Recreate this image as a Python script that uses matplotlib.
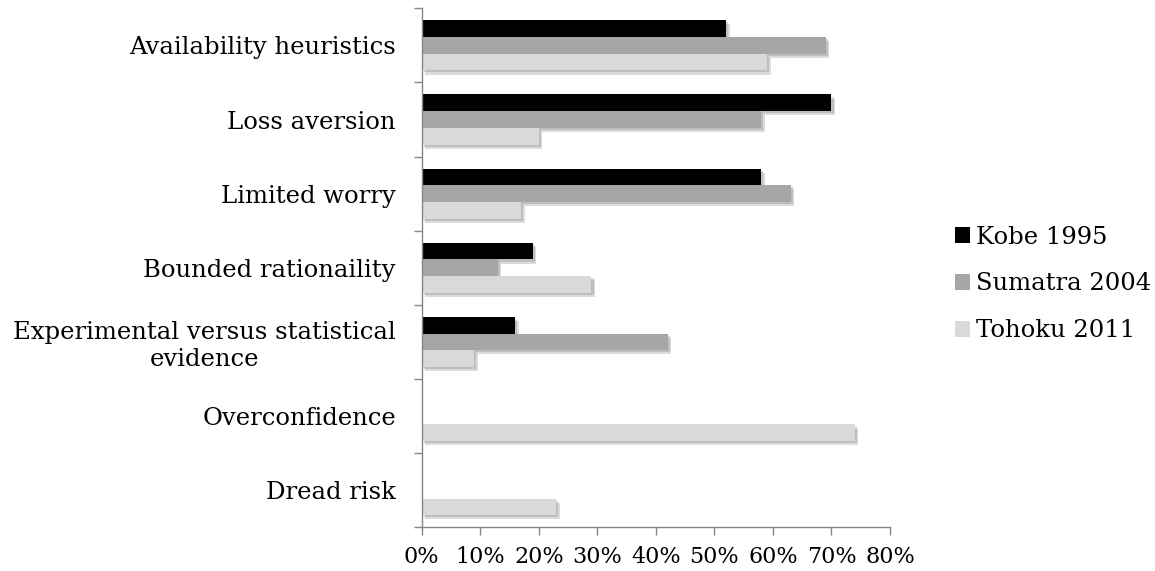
import numpy as np
import matplotlib
matplotlib.use("Agg")
import matplotlib.pyplot as plt
import matplotlib.patheffects as pe
from matplotlib.ticker import PercentFormatter

#Data
categories = ["Availability heuristics", "Loss aversion", "Limited worry",
              "Bounded rationaility", "Experimental versus statistical\nevidence",
              "Overconfidence", "Dread risk"]
kobe_1995 = [0.52, 0.70, 0.58, 0.19, 0.16, 0.0, 0.0]
sumatra_2004 = [0.69, 0.58, 0.63, 0.13, 0.42, 0.0, 0.0]
tohoku_2011 = [0.59, 0.20, 0.17, 0.29, 0.09, 0.74, 0.23]
x_ticks = [0, 0.1, 0.2, 0.3, 0.4, 0.5, 0.6, 0.7, 0.8]

plt.rcParams['font.family'] = ['DejaVu Serif']
plt.rcParams['font.size'] = 17.5

fig = plt.figure(figsize=(11.55, 5.71), dpi=100)
ax = fig.add_axes([0.3651, 0.0765, 0.4055, 0.909])

y = np.arange(len(categories))
h = 0.225
#soft drop shadow like the original
shadow = [pe.SimplePatchShadow(offset=(2.5, -3), shadow_rgbFace='#9a9a9a', alpha=0.35),
          pe.SimplePatchShadow(offset=(1.5, -1.5), shadow_rgbFace='#8a8a8a', alpha=0.35),
          pe.Normal()]

series = [("Kobe 1995", kobe_1995, "#000000", -h),
          ("Sumatra 2004", sumatra_2004, "#a6a6a6", 0),
          ("Tohoku 2011", tohoku_2011, "#d9d9d9", h)]
for name, vals, col, off in series:
    bars = ax.barh(y + off, vals, height=h, color=col, label=name)
    for b in bars:
        b.set_path_effects(shadow)

#Axes styling
ax.set_xlim(0, 0.8)
ax.set_ylim(len(categories) - 0.5, -0.5)
ax.set_xticks(x_ticks)
ax.xaxis.set_major_formatter(PercentFormatter(1.0, decimals=0))
ax.set_yticks(y)
ax.set_yticklabels(categories)
for lab in ax.get_yticklabels():
    lab.set_multialignment('center')
ax.set_yticks(np.arange(-0.5, len(categories)), minor=True)

for s in ['top', 'right']:
    ax.spines[s].set_visible(False)
for s in ['left', 'bottom']:
    ax.spines[s].set_color('#868686')
    ax.spines[s].set_linewidth(1.0)

ax.tick_params(axis='y', which='major', length=0, pad=18.5)
ax.tick_params(axis='y', which='minor', length=6, width=1.0, color='#868686')
ax.tick_params(axis='x', length=5.5, width=1.0, color='#868686', pad=8, labelsize=16)

#Legend
leg = fig.legend(loc='center left', bbox_to_anchor=(955 / 1155, 1 - 284 / 571),
                 frameon=False, borderaxespad=0, borderpad=0,
                 handlelength=0.62, handleheight=0.62, handletextpad=0.25,
                 labelspacing=0.98)
for hnd in leg.legend_handles:
    hnd.set_path_effects([])

fig.savefig("out.png", dpi=100)
